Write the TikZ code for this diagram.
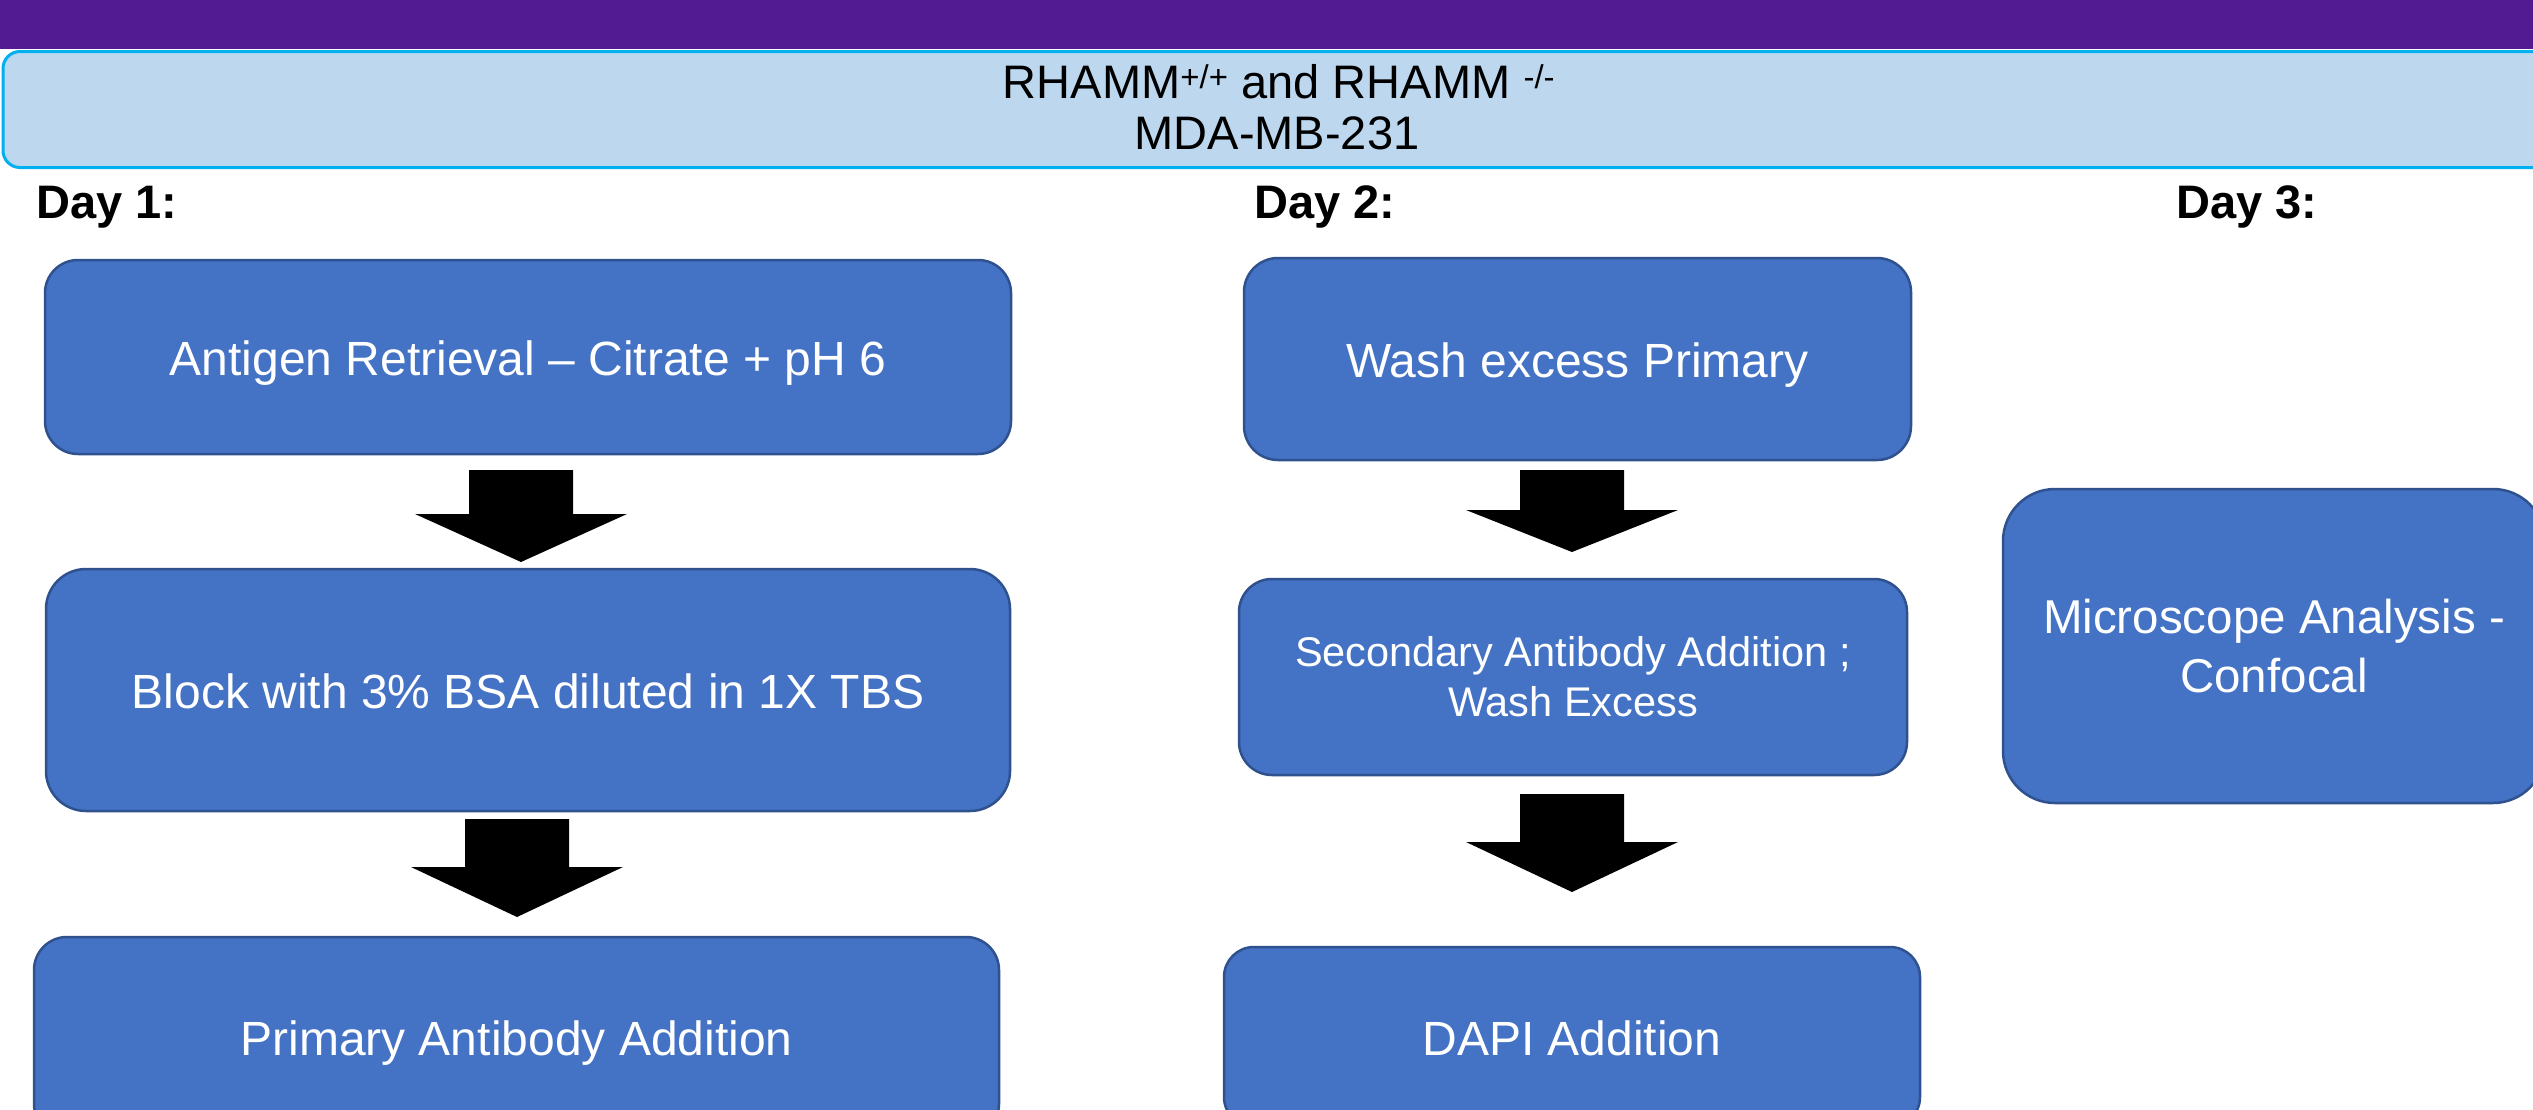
\documentclass[tikz,border=0pt]{standalone}
\usepackage{fontspec}
\setmainfont{Liberation Sans}
\definecolor{purplebar}{HTML}{521B92}
\definecolor{headfill}{HTML}{BDD7EE}
\definecolor{headedge}{HTML}{00B0F0}
\definecolor{boxfill}{HTML}{4472C4}
\definecolor{boxedge}{HTML}{2F528F}
\newcommand\blockdown[3]{%
  \fill[blockarrow] ([xshift=-52pt]#1) -- ([xshift=52pt]#1) -- ++(0,#2) -- ++(54,0)
    -- ++(-106,#3) -- ++(-106,-#3) -- ++(54,0) -- cycle;}
\begin{document}
\begin{tikzpicture}[x=1pt,y=-1pt,
  stepbox/.style={draw=boxedge, fill=boxfill, line width=2.5pt, text=white,
    align=center, inner sep=0pt, font=\fontsize{48}{57.6}\selectfont},
  oneline/.style={text height=46pt, text depth=10pt},
  daylabel/.style={anchor=base west, inner sep=0pt,
    font=\bfseries\fontsize{47}{56}\selectfont},
  headtext/.style={anchor=base, inner sep=0pt, font=\fontsize{47}{56}\selectfont},
  headbox/.style={draw=headedge, fill=headfill, line width=3pt, inner sep=0pt},
  blockarrow/.style={fill=black}]
\useasboundingbox (0,0) rectangle (2533,1109);
\clip (0,0) rectangle (2533,1109);
\fill[white] (0,0) rectangle (2533,1109);
% top bar
\fill[purplebar] (-10,-10) rectangle (2545,49);
% header
\node[headbox, minimum width=2600, minimum height=116, rounded corners=17,
  anchor=north west] (header) at (1.5,50) {};
\node[headtext] (h1) at (1279,98) {RHAMM\textsuperscript{+/+} and RHAMM \textsuperscript{-/-}};
\node[headtext] (h2) at (1277,149) {MDA-MB-231};
% day labels
\node[daylabel] (d1) at (36,218) {Day 1:};
\node[daylabel] (d2) at (1254,218) {Day 2:};
\node[daylabel] (d3) at (2176,218) {Day 3:};
% day 1
\node[stepbox, oneline, minimum width=966, minimum height=194, rounded corners=33] (s1) at (528,357)
  {Antigen Retrieval – Citrate + pH 6};
\node[stepbox, oneline, minimum width=964, minimum height=242, rounded corners=40] (s2) at (528,690)
  {Block with 3\% BSA diluted in 1X TBS};
\node[stepbox, oneline, minimum width=965, minimum height=200, rounded corners=33] (s3) at (516.5,1037)
  {Primary Antibody Addition};
% day 2
\node[stepbox, oneline, minimum width=667, minimum height=202, rounded corners=34] (s4) at (1577.5,359)
  {Wash excess Primary};
\node[stepbox, minimum width=668, minimum height=196, rounded corners=33,
  font=\fontsize{41.5}{50}\selectfont] (s5) at (1573,677)
  {Secondary Antibody Addition ;\\ Wash Excess};
\node[stepbox, oneline, minimum width=696, minimum height=180, rounded corners=30] (s6) at (1572,1037)
  {DAPI Addition};
% day 3
\node[stepbox, minimum width=542, minimum height=314, rounded corners=52,
  font=\fontsize{47.5}{59}\selectfont] (s7) at (2274,646)
  {Microscope Analysis -\\ Confocal};
% block arrows
\coordinate (a1) at (521,470);
\coordinate (a2) at (517,819);
\coordinate (a3) at (1572,470);
\coordinate (a4) at (1572,794);
\blockdown{a1}{44}{48}
\blockdown{a2}{48}{50}
\blockdown{a3}{40}{42}
\blockdown{a4}{48}{50}
\end{tikzpicture}
\end{document}
